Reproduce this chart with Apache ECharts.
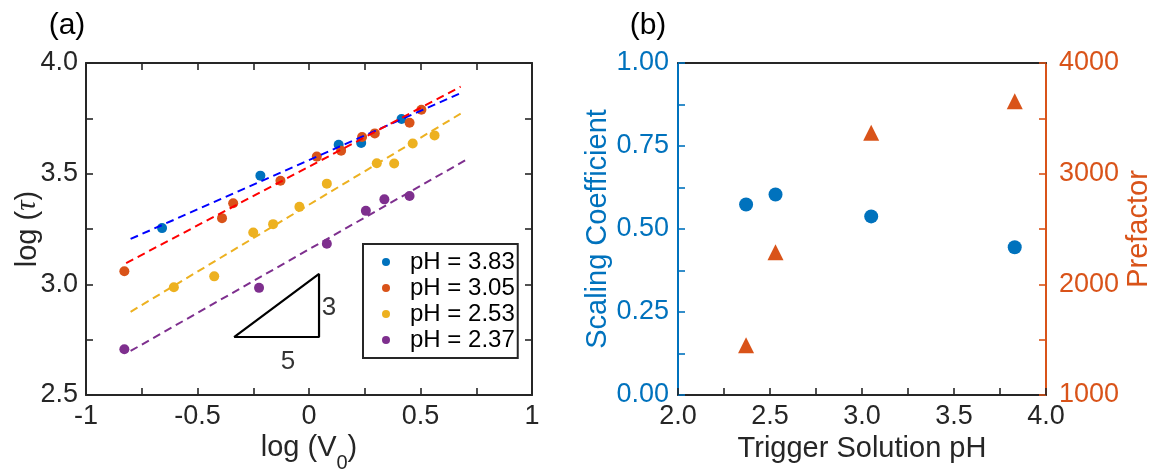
<!DOCTYPE html>
<html>
<head>
<meta charset="utf-8">
<title>Relaxation time scaling and fit parameters</title>
<script src="https://cdn.jsdelivr.net/npm/echarts@6/dist/echarts.min.js"></script>
<style>
  html, body { margin: 0; padding: 0; background: #ffffff; }
  #chart { width: 1155px; height: 473px; }
</style>
</head>
<body>
<div id="chart"></div>
<script>
// ---- Panel (a): log(tau) against log(V0), one series per trigger pH ----
const seriesNames = ['pH = 3.83', 'pH = 3.05', 'pH = 2.53', 'pH = 2.37'];

const logV_383 = [-0.659, -0.218, 0.133, 0.234, 0.415];
const logT_383 = [3.254, 3.491, 3.631, 3.639, 3.747];

const logV_305 = [-0.828, -0.390, -0.340, -0.128, 0.035, 0.144, 0.238, 0.295, 0.451, 0.504];
const logT_305 = [3.059, 3.299, 3.366, 3.468, 3.577, 3.604, 3.666, 3.682, 3.730, 3.789];

const logV_253 = [-0.606, -0.425, -0.250, -0.161, -0.043, 0.080, 0.304, 0.382, 0.465, 0.563];
const logT_253 = [2.987, 3.036, 3.234, 3.272, 3.350, 3.455, 3.547, 3.546, 3.636, 3.673];

const logV_237 = [-0.828, -0.224, 0.080, 0.255, 0.338, 0.451];
const logT_237 = [2.707, 2.984, 3.183, 3.332, 3.384, 3.399];

// Power-law fit lines (dashed), given by their two end points
const fitX = [[-0.80, 0.68], [-0.82, 0.68], [-0.80, 0.68], [-0.80, 0.70]];
const fitY = [[3.205, 3.864], [3.096, 3.893], [2.876, 3.771], [2.699, 3.560]];

// Slope triangle (3 : 5) and its side labels
const triangleX = [-0.336, 0.045, 0.045, -0.336];
const triangleY = [2.762, 2.762, 3.047, 2.762];
const triangleLabels = ['3', '5'];
const triangleLabelX = [0.090, -0.094];
const triangleLabelY = [2.895, 2.650];

// ---- Panel (b): fit parameters against trigger solution pH ----
const triggerPH = [2.37, 2.53, 3.05, 3.83];
const scalingCoefficient = [0.574, 0.604, 0.538, 0.445];
const prefactor = [1450, 2290, 3370, 3655];

// Tick label sets
const ticksA_x = ['-1', '-0.5', '0', '0.5', '1'];
const ticksA_y = ['2.5', '3.0', '3.5', '4.0'];
const ticksB_x = ['2.0', '2.5', '3.0', '3.5', '4.0'];
const ticksB_left = ['0.00', '0.25', '0.50', '0.75', '1.00'];
const ticksB_right = ['1000', '2000', '3000', '4000'];

// ---- styling ----
const FONT = "'Liberation Sans', Arial, Helvetica, sans-serif";
const INK = '#262626';
const markerColors = ['#0072BD', '#D95319', '#EDB120', '#7E2F8E'];
const fitColors = ['#0000FF', '#FF0000', '#EDB120', '#7E2F8E'];
const BLUE = '#0072BD';
const ORANGE = '#D95319';
const TICK_FS = 27;
const NAME_FS = 29;

function zip(xs, ys) { return xs.map((x, i) => [x, ys[i]]); }

// label only the ticks that appear in a list of tick strings
function labelFrom(list, digits) {
  return function (v) {
    const s = digits === null ? String(+v.toFixed(4)) : v.toFixed(digits);
    return list.indexOf(s) >= 0 ? s : '';
  };
}

function valueAxis(opts) {
  const color = opts.color || INK;
  return Object.assign({
    type: 'value',
    scale: false,
    nameMoveOverlap: false,
    splitLine: { show: false },
    axisLine: { show: true, onZero: false, lineStyle: { color: color, width: 2 } },
    axisTick: { show: true, inside: true, length: 7, lineStyle: { color: color, width: 1.6 } },
    axisLabel: { show: false }
  }, opts.base);
}

const aData = [zip(logV_383, logT_383), zip(logV_305, logT_305), zip(logV_253, logT_253), zip(logV_237, logT_237)];

const series = [];

// fit lines for panel (a)
fitX.forEach((xs, i) => {
  series.push({
    type: 'line', xAxisIndex: 0, yAxisIndex: 0, silent: true,
    data: zip(xs, fitY[i]), showSymbol: false, symbol: 'none',
    lineStyle: { color: fitColors[i], width: 2, type: [8, 5] },
    z: 3
  });
});

// measured points for panel (a)
aData.forEach((d, i) => {
  series.push({
    name: seriesNames[i], type: 'scatter', xAxisIndex: 0, yAxisIndex: 0,
    data: d, symbol: 'circle', symbolSize: 10,
    itemStyle: { color: markerColors[i], opacity: 1 }, z: 2
  });
});

// slope triangle
series.push({
  type: 'line', xAxisIndex: 0, yAxisIndex: 0, silent: true,
  data: zip(triangleX, triangleY), symbol: 'none',
  lineStyle: { color: '#000000', width: 2.2 }, z: 4
});
series.push({
  type: 'scatter', xAxisIndex: 0, yAxisIndex: 0, silent: true,
  data: triangleLabels.map((t, i) => ({ name: t, value: [triangleLabelX[i], triangleLabelY[i]] })),
  symbolSize: 0,
  label: { show: true, position: 'inside', formatter: p => p.name, color: '#000000', fontSize: 26, fontFamily: FONT }
});

// panel (b)
series.push({
  name: 'Scaling Coefficient', type: 'scatter', xAxisIndex: 2, yAxisIndex: 2,
  data: zip(triggerPH, scalingCoefficient), symbol: 'circle', symbolSize: 14,
  itemStyle: { color: BLUE, opacity: 1 }
});
series.push({
  name: 'Prefactor', type: 'scatter', xAxisIndex: 2, yAxisIndex: 3,
  data: zip(triggerPH, prefactor), symbol: 'triangle', symbolSize: 16,
  itemStyle: { color: ORANGE, opacity: 1 }
});

const panelTitle = { fontFamily: FONT, fontSize: 30, fontWeight: 'normal', color: '#000' };

const option = {
  animation: false,
  backgroundColor: '#ffffff',
  textStyle: { fontFamily: FONT },
  title: [
    { text: '(a)', left: 62, top: 6, textAlign: 'center', textStyle: panelTitle },
    { text: '(b)', left: 643, top: 6, textAlign: 'center', textStyle: panelTitle }
  ],
  grid: [
    { left: 86, top: 63, width: 446, height: 332, containLabel: false, outerBoundsMode: 'none' },
    { left: 678, top: 63, width: 368, height: 332, containLabel: false, outerBoundsMode: 'none' }
  ],
  legend: {
    data: seriesNames,
    orient: 'vertical',
    left: 363, top: 244,
    padding: [5, 3, 5, 19],
    itemGap: 0,
    itemWidth: 8, itemHeight: 8,
    icon: 'circle',
    backgroundColor: '#ffffff',
    borderColor: INK, borderWidth: 2, borderRadius: 0,
    textStyle: { fontFamily: FONT, fontSize: 24, color: '#000', lineHeight: 26, padding: [0, 0, 0, 15] }
  },
  xAxis: [
    valueAxis({ base: {
      gridIndex: 0, position: 'bottom', min: -1, max: 1, interval: 0.25,
      axisLabel: { show: true, formatter: labelFrom(ticksA_x, null), fontSize: TICK_FS, color: INK, margin: 8, fontFamily: FONT },
      name: '{m|log (V}{sub|0}{m|)}', nameLocation: 'middle', nameGap: 38,
      nameTextStyle: { fontSize: NAME_FS, color: INK, fontFamily: FONT,
        rich: {
          m: { fontSize: NAME_FS, fontFamily: FONT, color: INK, padding: [0, 0, 16, 0] },
          sub: { fontSize: 20, fontFamily: FONT, color: INK, padding: [16, 0, 0, 0] }
        } }
    } }),
    valueAxis({ base: { gridIndex: 0, position: 'top', min: -1, max: 1, interval: 0.25 } }),
    valueAxis({ base: {
      gridIndex: 1, position: 'bottom', min: 2, max: 4, interval: 0.25,
      axisLabel: { show: true, formatter: labelFrom(ticksB_x, 1), fontSize: TICK_FS, color: INK, margin: 8, fontFamily: FONT },
      name: 'Trigger Solution pH', nameLocation: 'middle', nameGap: 39,
      nameTextStyle: { fontSize: NAME_FS, color: INK, fontFamily: FONT }
    } }),
    valueAxis({ base: { gridIndex: 1, position: 'top', min: 2, max: 4, interval: 0.25, axisTick: { show: false } } })
  ],
  yAxis: [
    valueAxis({ base: {
      gridIndex: 0, position: 'left', min: 2.5, max: 4, interval: 0.25,
      axisLabel: { show: true, formatter: labelFrom(ticksA_y, 1), fontSize: TICK_FS, color: INK, margin: 8, fontFamily: FONT },
      name: 'log ({i|τ})', nameLocation: 'middle', nameGap: 44, nameRotate: 90,
      nameTextStyle: { fontSize: NAME_FS, color: INK, fontFamily: FONT,
        rich: { i: { fontSize: NAME_FS, fontStyle: 'italic', fontFamily: "'Liberation Serif', 'DejaVu Serif', serif", color: INK } } }
    } }),
    valueAxis({ base: { gridIndex: 0, position: 'right', min: 2.5, max: 4, interval: 0.25 } }),
    valueAxis({ color: BLUE, base: {
      gridIndex: 1, position: 'left', min: 0, max: 1, interval: 0.125,
      axisLabel: { show: true, formatter: labelFrom(ticksB_left, 2), fontSize: TICK_FS, color: BLUE, margin: 9, fontFamily: FONT },
      name: 'Scaling Coefficient', nameLocation: 'middle', nameGap: 66, nameRotate: 90,
      nameTextStyle: { fontSize: NAME_FS, color: BLUE, fontFamily: FONT }
    } }),
    valueAxis({ color: ORANGE, base: {
      gridIndex: 1, position: 'right', min: 1000, max: 4000, interval: 500,
      axisLabel: { show: true, formatter: labelFrom(ticksB_right, 0), fontSize: TICK_FS, color: ORANGE, margin: 13, fontFamily: FONT },
      name: 'Prefactor', nameLocation: 'middle', nameGap: 78, nameRotate: 90,
      nameTextStyle: { fontSize: NAME_FS, color: ORANGE, fontFamily: FONT }
    } })
  ],
  series: series
};

const chart = echarts.init(document.getElementById('chart'), null, { renderer: 'canvas' });
chart.setOption(option);
</script>
</body>
</html>
